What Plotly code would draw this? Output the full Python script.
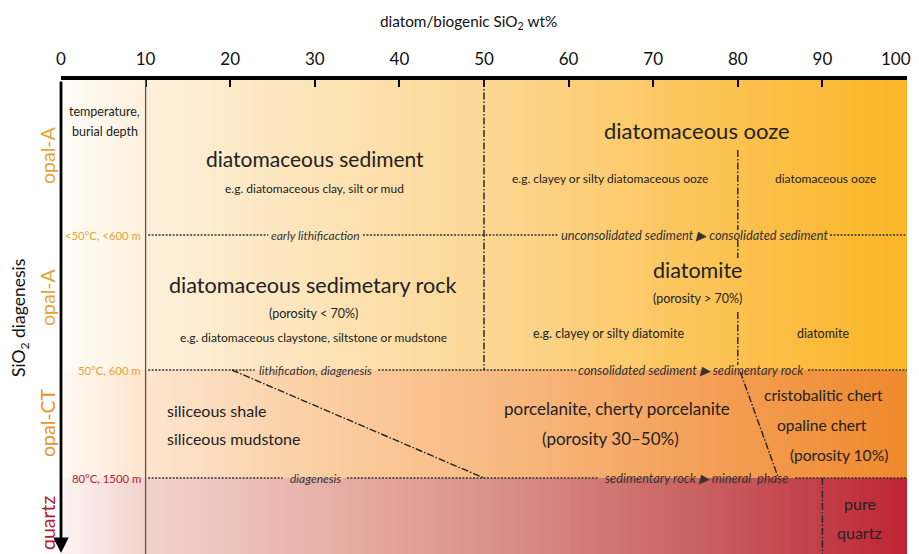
import numpy as np
import plotly.graph_objects as go

# ---------------- data ----------------
x_ticks = [0, 10, 20, 30, 40, 50, 60, 70, 80, 90, 100]
# row bands (vertical position in diagram units, top -> bottom)
band_edges = [80, 370, 478, 554]
boundary_y = [235, 370, 478]
boundary_left = ["<50°C, <600 m", "50°C, 600 m", "80°C, 1500 m"]
boundary_left_colors = ["#e8a232", "#e8a232", "#b0203c"]
boundary_mid = ["early lithificaction", "lithification, diagenesis", "diagenesis"]
boundary_right = ["unconsolidated sediment ▶ consolidated sediment",
                  "consolidated sediment ▶ sedimentary rock",
                  "sedimentary rock ▶ mineral  phase"]
boundary_segments = [
    [(10.3, 24.5), (35.7, 58.7), (90.9, 100)],
    [(10.3, 22.9), (37.5, 61.0), (88.3, 100)],
    [(10.3, 26.2), (33.8, 63.5), (86.8, 100)],
]
mid_label_x = [30.1, 30.1, 30.1]
right_label_x = [74.9, 74.5, 75.1]

# dash-dot dividing lines: (x0, y0, x1, y1)
divider_lines = [
    (50, 80, 50, 370),
    (80, 150, 80, 230),
    (80, 240, 80, 258),
    (80, 312, 80, 365),
    (20.2, 370, 50, 478),
    (80.3, 372, 84.8, 478),
    (90, 478, 90, 554),
]

# region labels: (text, x, y, size, anchor)
region_labels = [
    ("temperature,", 5.2, 111, 12.5, "center"),
    ("burial depth", 5.2, 131, 12.5, "center"),
    ("diatomaceous sediment", 30.0, 158, 21, "center"),
    ("e.g. diatomaceous clay, silt or mud", 30.0, 188, 12, "center"),
    ("diatomaceous ooze", 75.2, 130, 22, "center"),
    ("e.g. clayey or silty diatomaceous ooze", 64.9, 178, 12, "center"),
    ("diatomaceous ooze", 90.4, 178, 12, "center"),
    ("diatomaceous sedimetary rock", 29.8, 285, 21.6, "center"),
    ("(porosity < 70%)", 29.8, 313, 12.5, "center"),
    ("e.g. diatomaceous claystone, siltstone or mudstone", 29.8, 337, 12, "center"),
    ("diatomite", 75.2, 270, 21.5, "center"),
    ("(porosity > 70%)", 75.2, 298, 12.5, "center"),
    ("e.g. clayey or silty diatomite", 64.7, 333, 12.5, "center"),
    ("diatomite", 90.1, 333, 12.5, "center"),
    ("siliceous shale", 12.3, 410, 16, "left"),
    ("siliceous mudstone", 12.3, 438, 16, "left"),
    ("porcelanite, cherty porcelanite", 65.7, 408, 17, "center"),
    ("(porosity 30–50%)", 64.9, 438, 17, "center"),
    ("cristobalitic chert", 90.1, 395, 15.6, "center"),
    ("opaline chert", 90.0, 425, 15.6, "center"),
    ("(porosity 10%)", 92.0, 455, 15.6, "center"),
    ("pure", 94.4, 503, 16, "center"),
    ("quartz", 94.4, 532, 16, "center"),
]

# side phase labels: (text, y center, color)
phase_labels = [
    ("opal-A", 155, "#e8a232"),
    ("opal-A", 297, "#e8a232"),
    ("opal-CT", 423, "#e8922e"),
    ("quartz", 523, "#b0203c"),
]

# colour gradients per band
band_scales = [
    [[0, "#fffdf8"], [0.1, "#fdf0dc"], [0.3, "#fde4b8"], [0.5, "#fcd795"],
     [0.75, "#fcc55a"], [1, "#fbb526"]],
    [[0, "#fffaf5"], [0.1, "#fde5ce"], [0.3, "#fbcfa4"], [0.5, "#f8bb84"],
     [0.75, "#f4a159"], [1, "#ef892d"]],
    [[0, "#fdf4f2"], [0.1, "#f2d3cd"], [0.3, "#e8b2aa"], [0.5, "#db938b"],
     [0.75, "#c96262"], [0.9, "#c23e47"], [1, "#be2434"]],
]

FONT = "Lato"
TXT = "#222222"
TICK_SIZE = 17

# page body has an 8px margin: the figure is offset by 8px
OFF = 8
PLOT_L, PLOT_R, PLOT_T = 61, 907, 80
PLOT_W = PLOT_R - PLOT_L
FIG_W = 919 - OFF


def paper_x(px):
    return (px - PLOT_L) / PLOT_W


fig = go.Figure()

xe = np.linspace(0, 100, 301)
xc = (xe[:-1] + xe[1:]) / 2
for i in range(3):
    fig.add_trace(go.Heatmap(
        x=xe, y=[band_edges[i], band_edges[i + 1]], z=[xc],
        zmin=0, zmax=100, colorscale=band_scales[i], showscale=False,
        hoverinfo="skip"))

shapes = []
shapes.append(dict(type="line", x0=10, x1=10, y0=80, y1=554,
                   line=dict(color="#555555", width=1.3)))
for segs, y in zip(boundary_segments, boundary_y):
    for a, b in segs:
        shapes.append(dict(type="line", x0=a, x1=b, y0=y, y1=y,
                           line=dict(color="#333333", width=1.4, dash="2px,1.5px")))
for x0, y0, x1, y1 in divider_lines:
    shapes.append(dict(type="line", x0=x0, x1=x1, y0=y0, y1=y1,
                       line=dict(color="#222222", width=1.4, dash="7px,2px,1.5px,2px")))

ann = []
for t, x, y, s, anc in region_labels:
    ann.append(dict(text=t, x=x, y=y, xanchor=anc, yanchor="middle", showarrow=False,
                    font=dict(family=FONT, size=s, color=TXT)))
for i, y in enumerate(boundary_y):
    ann.append(dict(text=boundary_left[i], x=9.7, y=y, xanchor="right", yanchor="middle",
                    showarrow=False, font=dict(family=FONT, size=11.3, color=boundary_left_colors[i])))
    ann.append(dict(text="<i>" + boundary_mid[i] + "</i>", x=mid_label_x[i], y=y,
                    xanchor="center", yanchor="middle", showarrow=False,
                    font=dict(family=FONT, size=12, color="#333333")))
    ann.append(dict(text="<i>" + boundary_right[i] + "</i>", x=right_label_x[i], y=y,
                    xanchor="center", yanchor="middle", showarrow=False,
                    font=dict(family=FONT, size=12.8, color="#333333")))
for t, y, c in phase_labels:
    ann.append(dict(text=t, xref="paper", x=paper_x(47), y=y, textangle=-90,
                    xanchor="center", yanchor="middle",
                    showarrow=False, font=dict(family=FONT, size=19.5, color=c)))
ann.append(dict(text="SiO<sub>2</sub> diagenesis", xref="paper", x=paper_x(20), y=318,
                textangle=-90, xanchor="center", yanchor="middle", showarrow=False,
                font=dict(family=FONT, size=17.5, color="#111111")))
ann.append(dict(text="diatom/biogenic SiO<sub>2</sub> wt%", xref="paper", yref="paper",
                x=paper_x(468), y=1, yshift=58, xanchor="center", yanchor="middle",
                showarrow=False, font=dict(family=FONT, size=15.3, color="#111111")))
# last tick label placed so it stays inside the window
ann.append(dict(text=str(x_ticks[-1]), xref="x", yref="paper", x=x_ticks[-1], y=1,
                xanchor="right", xshift=6, yshift=22, yanchor="middle", showarrow=False,
                font=dict(family=FONT, size=TICK_SIZE, color="#111111")))
# downward axis arrow
ann.append(dict(text="", x=0, y=553, ax=0, ay=80, axref="x", ayref="y",
                showarrow=True, arrowhead=2, arrowsize=1.1, arrowwidth=2.8,
                arrowcolor="#000000"))

fig.update_layout(
    width=FIG_W, height=554 - OFF,
    margin=dict(l=PLOT_L - OFF, r=FIG_W - (PLOT_R - OFF), t=PLOT_T - OFF, b=0),
    paper_bgcolor="white", plot_bgcolor="white",
    shapes=shapes, annotations=ann, showlegend=False,
    xaxis=dict(range=[0, 100], side="top", tickvals=x_ticks,
               ticktext=[str(v) for v in x_ticks[:-1]] + [""],
               showline=True, linecolor="black", linewidth=4,
               ticks="inside", ticklen=7, tickwidth=1.5, tickcolor="black",
               tickfont=dict(family=FONT, size=TICK_SIZE, color="#111111"),
               ticklabelstandoff=4, ticklabeloverflow="allow",
               showgrid=False, zeroline=False, fixedrange=True),
    yaxis=dict(range=[554, 80], visible=False, showgrid=False, zeroline=False,
               fixedrange=True),
)

fig.write_html("out.html")
